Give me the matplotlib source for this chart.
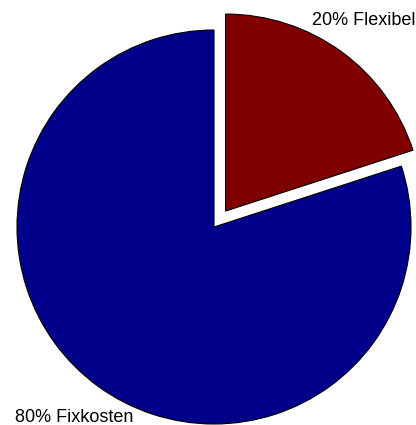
import matplotlib
matplotlib.use("Agg")
import matplotlib.pyplot as plt

categories = ["Flexibel", "Fixkosten"]
values = [20, 80]
colors = ["#800000", "#00008B"]
explode = [0.1, 0.0]

labels = [f"{v}% {c}" for v, c in zip(values, categories)]

plt.rcParams["font.family"] = ["Liberation Sans", "DejaVu Sans"]

fig = plt.figure(figsize=(4.16, 4.25), dpi=100)
ax = fig.add_axes([0, 0, 1, 1])
wedges, texts = ax.pie(values, labels=labels, colors=colors, explode=explode,
                       startangle=90, counterclock=False,
                       wedgeprops=dict(edgecolor="black", linewidth=0.8),
                       textprops=dict(fontsize=13))

# place labels like the original (left/right of the pie)
texts[0].set_position((0.497, 1.025))
texts[0].set_ha("left")
texts[0].set_va("baseline")
texts[1].set_position((-0.411, -0.99))
texts[1].set_ha("right")
texts[1].set_va("baseline")

# pie center at pixel (214, 227), radius 197 px
ax.set_aspect("auto")
ax.set_xlim(-214 / 197, (416 - 214) / 197)
ax.set_ylim((227 - 425) / 197, 227 / 197)
ax.axis("off")

fig.savefig("out.png", dpi=100)
